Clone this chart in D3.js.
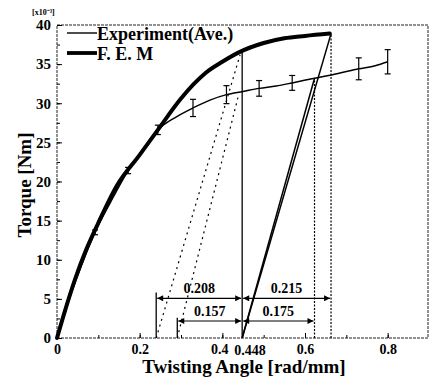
<!DOCTYPE html>
<html><head><meta charset="utf-8">
<script src="https://cdn.jsdelivr.net/npm/d3@7"></script>
<style>
html,body{margin:0;padding:0;background:#fff;}
svg{display:block;}
text{font-family:"Liberation Serif","Times New Roman",serif;font-weight:bold;fill:#000;}
</style></head>
<body>
<svg id="c" width="429" height="384"></svg>
<script>
// ---- data ----
const femX = [0, 0.02, 0.043, 0.07, 0.099, 0.144, 0.2, 0.244, 0.3, 0.33, 0.36, 0.4, 0.44, 0.5, 0.55, 0.6, 0.66];
const femY = [0, 3.6, 7.4, 11.2, 14.6, 19.4, 23.4, 26.6, 30.6, 32.4, 33.9, 35.3, 36.5, 37.7, 38.3, 38.6, 38.9];
const expX = [0, 0.02, 0.046, 0.092, 0.13, 0.172, 0.21, 0.244, 0.29, 0.329, 0.37, 0.41, 0.45, 0.489, 0.53, 0.569, 0.623, 0.68, 0.73, 0.77, 0.80];
const expY = [0, 3.5, 7.4, 13.5, 17.4, 21.4, 24.3, 26.6, 28.3, 29.4, 30.4, 31.1, 31.5, 31.9, 32.2, 32.6, 33.2, 33.8, 34.4, 34.8, 35.3];
const errX = [0.092, 0.172, 0.244, 0.329, 0.41, 0.489, 0.569, 0.73, 0.80];
const errHalf = [0.3, 0.4, 0.6, 1.1, 1.15, 1.0, 0.95, 1.4, 1.55];
const xTicks = [0, 0.2, 0.4, 0.6, 0.8];
const xTickLabels = ["0", "0.2", "0.4", "0.6", "0.8"];
const yTicks = [0, 5, 10, 15, 20, 25, 30, 35, 40];
const residual = 0.448;
// vertical marker lines [x, topTorque, style]
const vLines = [[0.24, 5.8, "solid"], [0.291, 2.6, "solid"], [0.448, 36.5, "solid"], [0.623, 33.2, "dot"], [0.663, 38.9, "dot"]];
// slanted unloading lines [x0, y0, x1, y1, style]
const slants = [[0.448, 0, 0.663, 38.9, "solid"], [0.448, 0, 0.623, 33.2, "solid"], [0.24, 0, 0.443, 36.2, "dot"], [0.291, 0, 0.44, 31.2, "dot"]];
// dimension arrows [x0, x1, torque, label]
const arrows = [[0.24, 0.448, 5.07, "0.208"], [0.448, 0.663, 5.07, "0.215"], [0.291, 0.448, 2.17, "0.157"], [0.448, 0.623, 2.17, "0.175"]];
const legendItems = [["Experiment(Ave.)", 1.4], ["F. E. M", 3.8]];

// ---- chart ----
const svg = d3.select("#c");
const x = d3.scaleLinear().domain([0, 0.9]).range([57, 429]);
const y = d3.scaleLinear().domain([0, 40]).range([338, 25]);

svg.append("defs").append("marker").attr("id", "ah").attr("viewBox", "0 0 10 10")
  .attr("refX", 10).attr("refY", 5).attr("markerWidth", 7).attr("markerHeight", 6)
  .attr("markerUnits", "userSpaceOnUse").attr("orient", "auto-start-reverse")
  .append("path").attr("d", "M0,0L10,5L0,10Z").attr("fill", "#000");

// frame
svg.append("rect").attr("x", x(0)).attr("y", y(40)).attr("width", x(0.9) - x(0) - 1).attr("height", y(0) - y(40))
  .attr("fill", "none").attr("stroke", "#222").attr("stroke-width", 1).attr("stroke-dasharray", "3,1");

// axes
const gx = svg.append("g").attr("transform", `translate(0,${y(0)})`)
  .call(d3.axisBottom(x).tickValues(d3.range(0, 0.85, 0.1)).tickSize(-3).tickFormat(""));
gx.select(".domain").remove();
const gx2 = svg.append("g").attr("transform", `translate(0,${y(0)})`)
  .call(d3.axisBottom(x).tickValues(xTicks).tickSize(-5).tickPadding(8).tickFormat((d, i) => xTickLabels[i]));
gx2.select(".domain").remove();
gx2.selectAll("text").style("font-size", "14px").attr("dy", "0.6em");
gx2.selectAll(".tick").filter(d => d === 0.4).select("text").attr("dx", "-3");
svg.append("text").attr("x", x(residual) - 8).attr("y", 354.5).style("font-size", "14px").text(String(residual));

const gy = svg.append("g").attr("transform", `translate(${x(0)},0)`)
  .call(d3.axisLeft(y).tickValues(d3.range(0, 40.1, 2.5)).tickSize(-3).tickFormat(""));
gy.select(".domain").remove();
const gy2 = svg.append("g").attr("transform", `translate(${x(0)},0)`)
  .call(d3.axisLeft(y).tickValues(yTicks).tickSize(-5).tickPadding(6));
gy2.select(".domain").remove();
gy2.selectAll("text").style("font-size", "15px");
svg.selectAll(".tick line").attr("stroke", "#000");

// multiplier
svg.append("text").attr("x", 32).attr("y", 15).style("font-size", "8px").text("[x10\u207B\u00B3]");

// axis titles
svg.append("text").attr("x", 244).attr("y", 373).attr("text-anchor", "middle").style("font-size", "19px")
  .text("Twisting Angle [rad/mm]");
svg.append("text").attr("transform", "translate(31,185) rotate(-90)").attr("text-anchor", "middle").style("font-size", "19px")
  .text("Torque [Nm]");

// vertical lines
svg.selectAll(".vl").data(vLines).join("line").attr("class", "vl")
  .attr("x1", d => x(d[0])).attr("x2", d => x(d[0])).attr("y1", y(0)).attr("y2", d => y(d[1]))
  .attr("stroke", "#000").attr("stroke-width", d => d[2] === "solid" ? 1.3 : 1.2)
  .attr("stroke-dasharray", d => d[2] === "solid" ? null : "2,1.5");

// slanted lines
svg.selectAll(".sl").data(slants).join("line").attr("class", "sl")
  .attr("x1", d => x(d[0])).attr("y1", d => y(d[1])).attr("x2", d => x(d[2])).attr("y2", d => y(d[3]))
  .attr("stroke", "#000").attr("stroke-width", d => d[4] === "solid" ? 1.5 : 1.2)
  .attr("stroke-dasharray", d => d[4] === "solid" ? null : "2,4");

// curves
const line = d3.line().curve(d3.curveMonotoneX);
svg.append("path").attr("d", line(expX.map((v, i) => [x(v), y(expY[i])])))
  .attr("fill", "none").attr("stroke", "#000").attr("stroke-width", 1.5);
svg.append("path").attr("d", line(femX.map((v, i) => [x(v), y(femY[i])])))
  .attr("fill", "none").attr("stroke", "#000").attr("stroke-width", 4).attr("stroke-linecap", "round");

// error bars
const eb = svg.selectAll(".eb").data(errX.map((v, i) => {
  const j = expX.indexOf(v);
  return {x: v, y: expY[j], h: errHalf[i]};
})).join("g").attr("class", "eb");
eb.append("line").attr("x1", d => x(d.x)).attr("x2", d => x(d.x)).attr("y1", d => y(d.y - d.h)).attr("y2", d => y(d.y + d.h))
  .attr("stroke", "#000").attr("stroke-width", 1.2);
eb.append("line").attr("x1", d => x(d.x) - 3).attr("x2", d => x(d.x) + 3).attr("y1", d => y(d.y - d.h)).attr("y2", d => y(d.y - d.h))
  .attr("stroke", "#000").attr("stroke-width", 1.2);
eb.append("line").attr("x1", d => x(d.x) - 3).attr("x2", d => x(d.x) + 3).attr("y1", d => y(d.y + d.h)).attr("y2", d => y(d.y + d.h))
  .attr("stroke", "#000").attr("stroke-width", 1.2);

// dimension arrows
const ag = svg.selectAll(".ar").data(arrows).join("g").attr("class", "ar");
ag.append("line").attr("x1", d => x(d[0]) + 1).attr("x2", d => x(d[1]) - 1).attr("y1", d => y(d[2])).attr("y2", d => y(d[2]))
  .attr("stroke", "#000").attr("stroke-width", 1.1)
  .attr("marker-start", "url(#ah)").attr("marker-end", "url(#ah)");
ag.append("text").attr("x", d => (x(d[0]) + x(d[1])) / 2).attr("y", d => y(d[2]) - 5)
  .attr("text-anchor", "middle").style("font-size", "14px").text(d => d[3]);

// legend
const lg = svg.selectAll(".lg").data(legendItems).join("g").attr("class", "lg")
  .attr("transform", (d, i) => `translate(67,${33 + i * 20})`);
lg.append("line").attr("x1", 0).attr("x2", 30).attr("stroke", "#000").attr("stroke-width", d => d[1]);
lg.append("text").attr("x", 30).attr("y", 7).style("font-size", "18px").text(d => d[0]);
</script>
</body></html>
